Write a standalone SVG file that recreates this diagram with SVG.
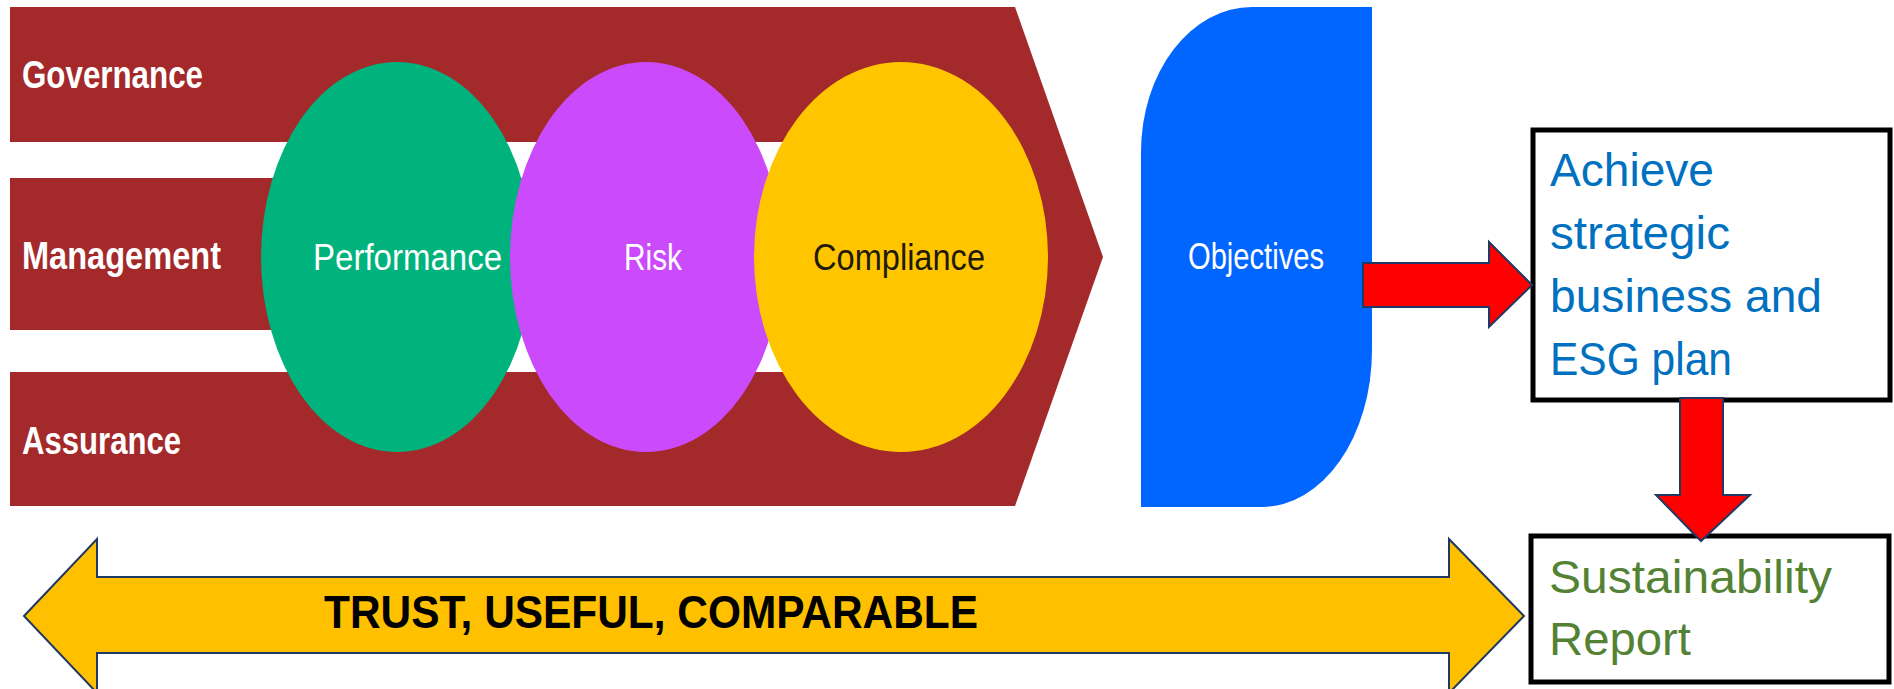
<svg xmlns="http://www.w3.org/2000/svg" width="1894" height="689" viewBox="0 0 1894 689">
<style>
.lbl{font-family:"Liberation Sans",Arial,sans-serif;font-weight:bold;font-size:38px;fill:#ffffff}
.ell{font-family:"Liberation Sans",Arial,sans-serif;font-size:37px}
.box{font-family:"Liberation Sans",Arial,sans-serif;font-size:47px}
.arr{fill:#ff0000;stroke:#1f3864;stroke-width:2}
</style>
<rect width="1894" height="689" fill="#ffffff"/>
<g id="band">
<polygon points="10,7 1015,7 1103,257 1015,506 10,506" fill="#a3292a"/>
<rect x="10" y="142" width="890" height="36" fill="#ffffff"/>
<rect x="10" y="330" width="890" height="42" fill="#ffffff"/>
<text class="lbl" x="22" y="88" textLength="181" lengthAdjust="spacingAndGlyphs">Governance</text>
<text class="lbl" x="22" y="269" textLength="199" lengthAdjust="spacingAndGlyphs">Management</text>
<text class="lbl" x="22" y="454" textLength="159" lengthAdjust="spacingAndGlyphs">Assurance</text>
</g>
<g id="performance">
<ellipse cx="397" cy="257" rx="136" ry="195" fill="#00b27b"/>
<text class="ell" x="313" y="270" fill="#ffffff" textLength="189" lengthAdjust="spacingAndGlyphs">Performance</text>
</g>
<g id="risk">
<ellipse cx="646" cy="257" rx="136" ry="195" fill="#cb4bfc"/>
<text class="ell" x="624" y="270" fill="#ffffff" textLength="58" lengthAdjust="spacingAndGlyphs">Risk</text>
</g>
<g id="compliance">
<ellipse cx="901" cy="257" rx="147" ry="195" fill="#ffc600"/>
<text class="ell" x="813" y="270" fill="#1f1a0a" textLength="172" lengthAdjust="spacingAndGlyphs">Compliance</text>
</g>
<g id="objectives">
<path d="M1141,507 L1141,152 A111,145 0 0 1 1252,7 L1372,7 L1372,350 A110,157 0 0 1 1262,507 Z" fill="#0066ff"/>
<text class="ell" x="1188" y="269" fill="#ffffff" font-size="32" textLength="136" lengthAdjust="spacingAndGlyphs">Objectives</text>
</g>
<g id="plan">
<rect x="1533" y="130" width="357" height="270" fill="#ffffff" stroke="#000000" stroke-width="5"/>
<text class="box" fill="#0070c0"><tspan x="1550" y="186" textLength="164" lengthAdjust="spacingAndGlyphs">Achieve</tspan><tspan x="1550" y="249" textLength="180" lengthAdjust="spacingAndGlyphs">strategic</tspan><tspan x="1550" y="312" textLength="272" lengthAdjust="spacingAndGlyphs">business and</tspan><tspan x="1550" y="375" textLength="182" lengthAdjust="spacingAndGlyphs">ESG plan</tspan></text>
</g>
<g id="report">
<rect x="1531" y="536" width="358" height="146" fill="#ffffff" stroke="#000000" stroke-width="5"/>
<text class="box" fill="#548235"><tspan x="1549" y="593" textLength="283" lengthAdjust="spacingAndGlyphs">Sustainability</tspan><tspan x="1549" y="655" textLength="142" lengthAdjust="spacingAndGlyphs">Report</tspan></text>
</g>
<g id="connectors">
<polygon class="arr" points="1363,263 1489,263 1489,242 1532,285 1489,327 1489,307 1363,307"/>
<polygon class="arr" points="1680,398 1723,398 1723,495 1750,495 1701,541 1656,495 1680,495"/>
<polygon points="24,616 97,539 97,577 1449,577 1449,539 1524,616 1449,693 1449,653 97,653 97,693" fill="#ffc000" stroke="#1f3864" stroke-width="2"/>
<text x="324" y="628" font-family="'Liberation Sans',Arial,sans-serif" font-weight="bold" font-size="46" fill="#000000" textLength="654" lengthAdjust="spacingAndGlyphs">TRUST, USEFUL, COMPARABLE</text>
</g>
</svg>
